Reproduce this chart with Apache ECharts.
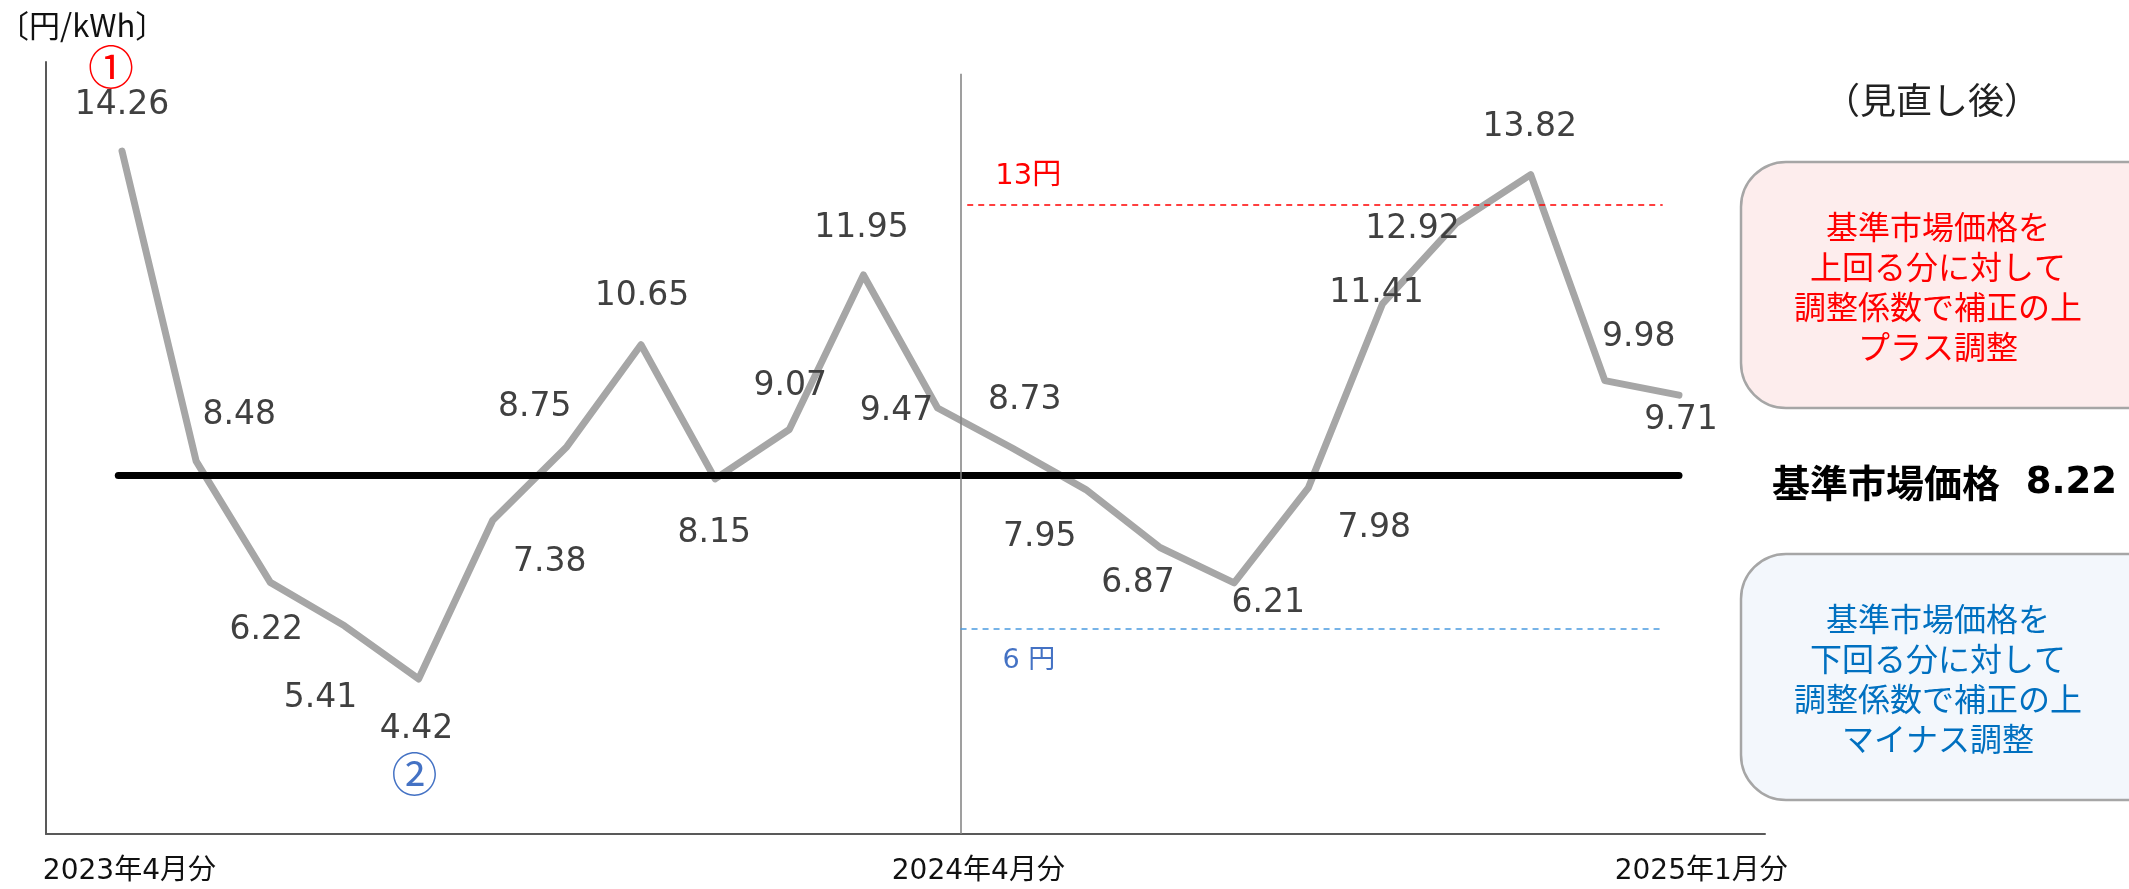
<!DOCTYPE html>
<html>
<head>
<meta charset="utf-8">
<script src="https://cdn.jsdelivr.net/npm/echarts@6/dist/echarts.min.js"></script>
<style>
  html, body { margin: 0; padding: 0; background: #fff; }
  #chart { width: 2129px; height: 889px; }
</style>
</head>
<body>
<div id="chart"></div>
<script>
// 月（2023年4月分〜2025年1月分）
const months = [
  '2023-04', '2023-05', '2023-06', '2023-07', '2023-08', '2023-09',
  '2023-10', '2023-11', '2023-12', '2024-01', '2024-02', '2024-03',
  '2024-04', '2024-05', '2024-06', '2024-07', '2024-08', '2024-09',
  '2024-10', '2024-11', '2024-12', '2025-01'
]
// 市場価格（円/kWh）
const prices = [
  14.26, 8.48, 6.22, 5.41, 4.42, 7.38, 8.75, 10.65, 8.15, 9.07, 11.95,
  9.47, 8.73, 7.95, 6.87, 6.21, 7.98, 11.41, 12.92, 13.82, 9.98, 9.71
]
// 基準市場価格
const basePrice = 8.22
// 上限・下限の目安線
const upperLine = 13.25
const lowerLine = 5.35
// 横軸ラベル
const tickLabels = ['2023年4月分', '2024年4月分', '2025年1月分']
const tickPos = [0.1, 11.55, 21.3]

// 値ラベルの位置ずらし（点からの px）
const labelOffsets = [
  [0, -46], [43, -46], [-4, 48], [-24, 73], [-2, 50], [57, 42],
  [-32, -39], [1, -48], [-1, 55], [1, -43], [-2, -47], [-41, 3],
  [13, -47], [-46, 48], [-22, 36], [34, 20], [66, 40], [-6, -11],
  [-44, 6], [-1, -47], [34, -43], [2, 25]
]

const jp = "'Noto Sans CJK JP', sans-serif"
const num = "'DejaVu Sans', 'Noto Sans CJK JP', sans-serif"
const splitX = 11.31
const lineEnd = 20.78

const chart = echarts.init(document.getElementById('chart'))
chart.setOption({
  animation: false,
  backgroundColor: '#fff',
  grid: { left: 46, right: 364, top: 62, bottom: 55 },
  xAxis: {
    type: 'value',
    min: -1.025,
    max: 22.16,
    splitLine: { show: false },
    axisTick: { show: false },
    axisLine: { onZero: false, lineStyle: { color: '#595959', width: 2 } },
    axisLabel: {
      customValues: tickPos,
      margin: 24,
      fontSize: 28,
      color: '#111',
      fontFamily: num,
      formatter: (v) => tickLabels[tickPos.indexOf(v)] || ''
    }
  },
  yAxis: {
    type: 'value',
    min: 1.53,
    max: 15.92,
    splitLine: { show: false },
    axisTick: { show: false },
    axisLabel: { show: false },
    axisLine: { show: true, onZero: false, lineStyle: { color: '#595959', width: 2 } }
  },
  series: [{
    name: months.join(','),
    type: 'line',
    data: prices.map((v, i) => [i, v]),
    symbol: 'circle',
    symbolSize: 1,
    itemStyle: { color: '#a6a6a6' },
    lineStyle: { color: '#a6a6a6', width: 7, cap: 'round', join: 'round' },
    label: {
      show: true,
      position: 'inside',
      fontSize: 33,
      color: '#404040',
      fontFamily: num,
      formatter: (p) => prices[p.dataIndex].toFixed(2)
    },
    labelLayout: (p) => ({ dx: labelOffsets[p.dataIndex][0], dy: labelOffsets[p.dataIndex][1] }),
    markPoint: {
      symbol: 'circle',
      symbolSize: 0,
      silent: true,
      label: { show: true, position: 'inside', fontSize: 46, fontFamily: jp },
      data: [
        { coord: [0, prices[0]], label: { formatter: '①', color: '#ff0000', offset: [-11, -85] } },
        { coord: [4, prices[4]], label: { formatter: '②', color: '#4472c4', offset: [-4, 95] } }
      ]
    },
    markLine: {
      silent: true,
      symbol: ['none', 'none'],
      label: { show: false },
      data: [
        [
          { coord: [-0.05, basePrice], lineStyle: { color: '#000', width: 7, type: 'solid', cap: 'round' } },
          { coord: [21, basePrice] }
        ],
        [
          { coord: [splitX, 1.53], lineStyle: { color: '#7f7f7f', width: 1.5, type: 'solid' } },
          { coord: [splitX, 15.7] }
        ],
        [
          {
            coord: [11.4, upperLine],
            lineStyle: { color: '#ff0000', width: 1.5, type: [6, 5] },
            label: {
              show: true, position: 'insideStartTop', distance: [28, 14],
              formatter: '13円', color: '#ff0000', fontSize: 29, fontFamily: num
            }
          },
          { coord: [lineEnd, upperLine] }
        ],
        [
          {
            coord: [splitX, lowerLine],
            lineStyle: { color: '#4a9ae0', width: 1.5, type: [6, 5] },
            label: {
              show: true, position: 'insideStartBottom', distance: [42, 18],
              formatter: '6 円', color: '#4472c4', fontSize: 27, fontFamily: num
            }
          },
          { coord: [lineEnd, lowerLine] }
        ]
      ]
    }
  }],
  graphic: [
    {
      type: 'text', left: -2, top: 10,
      style: { text: '〔円/kWh〕', fill: '#111', font: '31px ' + jp }
    },
    {
      type: 'text', x: 1932, y: 100,
      style: { text: '（見直し後）', fill: '#222', font: '36px ' + jp, align: 'center', verticalAlign: 'middle' }
    },
    {
      type: 'rect', shape: { x: 1741, y: 162, width: 440, height: 246, r: 45 },
      style: { fill: '#fdeded', stroke: '#a6a6a6', lineWidth: 2.5 }
    },
    {
      type: 'text', x: 1938, y: 287,
      style: {
        text: '基準市場価格を\n上回る分に対して\n調整係数で補正の上\nプラス調整',
        fill: '#ff0000', font: '32px ' + jp, lineHeight: 40, align: 'center', verticalAlign: 'middle'
      }
    },
    {
      type: 'text', x: 1772, y: 483,
      style: {
        text: '{a|基準市場価格}{b|  8.22}',
        align: 'left', verticalAlign: 'middle',
        rich: {
          a: { fontFamily: jp, fontWeight: 'bold', fontSize: 38, fill: '#000' },
          b: { fontFamily: "'DejaVu Sans', sans-serif", fontWeight: 'bold', fontSize: 37, fill: '#000' }
        }
      }
    },
    {
      type: 'rect', shape: { x: 1741, y: 554, width: 440, height: 246, r: 45 },
      style: { fill: '#f3f7fc', stroke: '#a6a6a6', lineWidth: 2.5 }
    },
    {
      type: 'text', x: 1938, y: 679,
      style: {
        text: '基準市場価格を\n下回る分に対して\n調整係数で補正の上\nマイナス調整',
        fill: '#0070c0', font: '32px ' + jp, lineHeight: 40, align: 'center', verticalAlign: 'middle'
      }
    }
  ]
})
</script>
</body>
</html>
